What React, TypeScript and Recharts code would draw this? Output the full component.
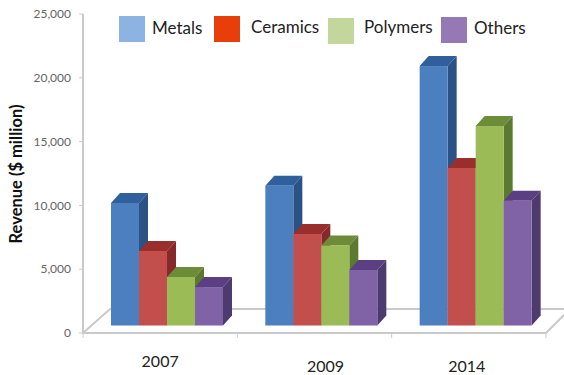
import React from 'react';
import { BarChart, Bar, XAxis, YAxis, Legend, usePlotArea } from 'recharts';

const years = ['2007', '2009', '2014'];
const metals = [10190, 11540, 20920];
const ceramics = [6430, 7760, 12930];
const polymers = [4390, 6860, 16220];
const others = [3600, 4940, 10370];
const yTicks = [0, 5000, 10000, 15000, 20000, 25000];

const rows = years.map((year, i) => ({
  year,
  Metals: metals[i],
  Ceramics: ceramics[i],
  Polymers: polymers[i],
  Others: others[i],
}));

const FONT = 'Lato, sans-serif';
const GRID = '#c9c9c9';

// front / top / side faces of each extruded bar
const faces = {
  Metals: ['#4c7fbf', '#2f5f9c', '#2a5285'],
  Ceramics: ['#c24f4c', '#9a2e2c', '#87292a'],
  Polymers: ['#9abb55', '#6c8c38', '#5c7a2e'],
  Others: ['#8062a6', '#5a3f82', '#4d3a6e'],
};

const legendItems = [
  { name: 'Metals', color: '#8db3e2', box: 119, text: 152, textY: 28, boxY: 16 },
  { name: 'Ceramics', color: '#e83e0a', box: 214, text: 251, textY: 27, boxY: 16 },
  { name: 'Polymers', color: '#c3d69b', box: 328, text: 364, textY: 27, boxY: 18 },
  { name: 'Others', color: '#9579b5', box: 441, text: 474, textY: 28, boxY: 17 },
];

const labelDrop: Record<string, [number, number]> = {
  '2007': [0, 31],
  '2009': [11, 36],
  '2014': [-2, 36],
};

// bars stand part way into the floor, so shift them back from the axis plane
const INSET_X = 7;
const INSET_Y = 7.5;
const DEPTH_X = 9;
const DEPTH_Y = 10;

function Bar3D(props: any) {
  const { x, y, width, height, dataKey } = props;
  const [front, top, side] = faces[dataKey as keyof typeof faces];
  const left = x + INSET_X;
  const right = left + width;
  const bottom = y + height - INSET_Y;
  return (
    <g>
      <polygon
        points={`${left},${y} ${left + DEPTH_X},${y - DEPTH_Y} ${right + DEPTH_X},${y - DEPTH_Y} ${right},${y}`}
        fill={top}
      />
      <polygon
        points={`${right},${y} ${right + DEPTH_X},${y - DEPTH_Y} ${right + DEPTH_X},${bottom - DEPTH_Y} ${right},${bottom}`}
        fill={side}
      />
      <rect x={left} y={y} width={width} height={bottom - y} fill={front} />
    </g>
  );
}

// skewed floor plane plus the tick marks between the year groups
function Floor() {
  const plot = usePlotArea();
  if (!plot) return null;
  const { x, y, width, height } = plot;
  const base = y + height;
  const end = x + width;
  const band = width / years.length;
  return (
    <g stroke={GRID} strokeWidth={2} fill="none">
      <line x1={x} y1={base} x2={x + 27} y2={base - 24} />
      <line x1={x + 27} y1={base - 24} x2={564} y2={base - 24} />
      <line x1={end} y1={base} x2={564} y2={base - 18} />
      {[0, 1, 2, 3].map((i) => (
        <line key={i} x1={x + band * i} y1={base} x2={x + band * i} y2={base + 5} strokeWidth={1} />
      ))}
    </g>
  );
}

function YearTick(props: any) {
  const { x, y, payload } = props;
  const [dx, dy] = labelDrop[payload.value];
  return (
    <text x={x + dx} y={y + dy - 5} textAnchor="middle" fontFamily={FONT} fontSize={16} fill="#222">
      {payload.value}
    </text>
  );
}

function RevenueLabel() {
  return (
    <text
      transform="translate(22 174) rotate(-90)"
      textAnchor="middle"
      fontFamily={FONT}
      fontSize={16.5}
      fontWeight={700}
      fill="#111"
    >
      Revenue ($ million)
    </text>
  );
}

function LegendBlock() {
  return (
    <div style={{ position: 'relative', width: 564, height: 0 }}>
      {legendItems.map((item) => (
        <React.Fragment key={item.name}>
          <div
            style={{
              position: 'absolute',
              left: item.box,
              top: item.boxY,
              width: 26,
              height: 26,
              background: item.color,
            }}
          />
          <div
            style={{
              position: 'absolute',
              left: item.text,
              top: item.textY - 11,
              lineHeight: '22px',
              fontFamily: FONT,
              fontSize: 17,
              color: '#222',
            }}
          >
            {item.name}
          </div>
        </React.Fragment>
      ))}
    </div>
  );
}

export default function App() {
  return (
    <div style={{ position: 'absolute', left: 0, top: 0 }}>
      <BarChart
        width={564}
        height={375}
        data={rows}
        margin={{ top: 14, right: 18, bottom: 12, left: 23 }}
        barGap={0}
        barSize={28}
      >
        <Floor />
        <XAxis
          dataKey="year"
          height={30}
          interval={0}
          tickLine={false}
          axisLine={{ stroke: GRID, strokeWidth: 2 }}
          tick={YearTick}
        />
        <YAxis
          width={60}
          domain={[0, 25000]}
          ticks={yTicks}
          interval={0}
          axisLine={{ stroke: GRID, strokeWidth: 2 }}
          tickLine={{ stroke: GRID }}
          tickSize={4}
          tickMargin={8}
          tickFormatter={(v: number) => v.toLocaleString('en-US')}
          tick={{ fontFamily: FONT, fontSize: 12, fill: '#666666' }}
          label={{ content: RevenueLabel }}
        />
        <Legend
          content={LegendBlock}
          verticalAlign="top"
          wrapperStyle={{ position: 'absolute', left: 0, top: 0, width: 564 }}
        />
        <Bar dataKey="Metals" isAnimationActive={false} shape={Bar3D} />
        <Bar dataKey="Ceramics" isAnimationActive={false} shape={Bar3D} />
        <Bar dataKey="Polymers" isAnimationActive={false} shape={Bar3D} />
        <Bar dataKey="Others" isAnimationActive={false} shape={Bar3D} />
      </BarChart>
    </div>
  );
}
